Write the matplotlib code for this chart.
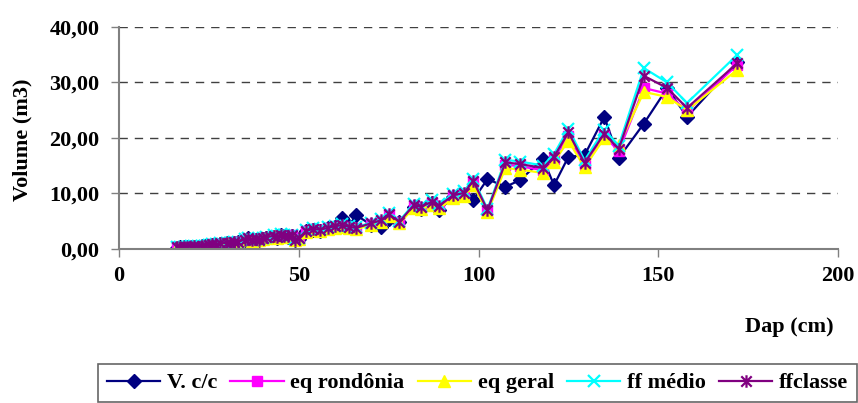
import matplotlib
matplotlib.use('Agg')
import matplotlib.pyplot as plt
from matplotlib.path import Path

# diametro (cm) e volumes (m3)
dap = [16, 17, 18, 19, 20, 21, 22, 23, 24, 25, 26, 27, 28,
       30, 31, 32, 33,
       35, 36, 37, 38, 39, 40, 41,
       43, 44, 45, 46, 47, 48, 49, 50,
       52, 54, 56, 58, 60, 62, 64, 66,
       70, 73, 75, 78,
       82, 84, 87, 89, 93, 96,
       98.5, 102.5, 107.5, 111.5,
       118, 121, 125, 129.5,
       135, 139, 146, 152.5, 158, 172]

v_cc = [0.25, 0.30, 0.35, 0.30, 0.40, 0.45, 0.40, 0.50, 0.55, 0.60, 0.80, 0.70, 0.90,
        1.00, 0.90, 1.10, 1.20,
        1.50, 1.90, 1.40, 1.70, 1.60, 1.80, 2.00,
        2.20, 2.00, 2.50, 2.30, 2.10, 2.40, 1.60, 1.80,
        3.20, 3.50, 3.30, 3.70, 4.00, 5.50, 4.20, 6.10,
        4.40, 3.90, 5.40, 4.80,
        7.60, 7.20, 8.20, 7.00, 9.40, 9.80,
        8.80, 12.60, 11.20, 12.40,
        16.20, 11.50, 16.60, 16.90,
        23.80, 16.40, 22.60, 29.00, 23.80, 33.70]

eq_rondonia = [0.30, 0.30, 0.40, 0.35, 0.45, 0.50, 0.45, 0.55, 0.60, 0.70, 0.84, 0.79, 0.99,
               1.09, 0.99, 1.19, 1.28,
               1.68, 1.87, 1.58, 1.77, 1.68, 1.97, 2.07,
               2.36, 2.17, 2.56, 2.36, 2.27, 2.46, 1.68, 1.87,
               3.25, 3.54, 3.45, 3.74, 4.03, 4.23, 3.94, 3.74,
               4.52, 5.11, 6.19, 4.82,
               7.75, 7.46, 8.33, 7.65, 9.50, 9.89,
               12.00, 6.85, 15.20, 14.90,
               14.20, 16.20, 20.40, 15.10,
               20.40, 17.60, 29.00, 28.00, 24.80, 33.20]

eq_geral = [0.28, 0.28, 0.38, 0.33, 0.42, 0.47, 0.42, 0.52, 0.57, 0.66, 0.80, 0.75, 0.94,
            1.04, 0.94, 1.13, 1.22,
            1.60, 1.79, 1.50, 1.69, 1.60, 1.88, 1.97,
            2.26, 2.07, 2.44, 2.26, 2.16, 2.35, 1.60, 1.79,
            3.10, 3.38, 3.29, 3.57, 3.85, 4.04, 3.76, 3.57,
            4.32, 4.89, 5.92, 4.61,
            7.43, 7.14, 7.99, 7.33, 9.12, 9.49,
            11.60, 6.60, 14.60, 14.30,
            13.70, 15.70, 19.50, 14.70,
            20.00, 18.70, 28.30, 27.40, 25.00, 32.30]

ff_medio = [0.31, 0.31, 0.41, 0.36, 0.46, 0.52, 0.46, 0.57, 0.62, 0.72, 0.88, 0.82, 1.03,
            1.13, 1.03, 1.24, 1.34,
            1.75, 1.96, 1.65, 1.85, 1.75, 2.06, 2.16,
            2.47, 2.27, 2.68, 2.47, 2.37, 2.58, 1.75, 1.96,
            3.40, 3.71, 3.61, 3.91, 4.22, 4.43, 4.12, 3.91,
            4.74, 5.36, 6.49, 5.05,
            8.14, 7.83, 8.76, 8.03, 9.99, 10.40,
            12.67, 7.21, 16.07, 15.76,
            15.04, 17.10, 21.70, 15.97,
            21.50, 18.60, 32.60, 30.00, 26.30, 35.00]

ffclasse = [0.30, 0.30, 0.40, 0.35, 0.45, 0.50, 0.45, 0.55, 0.60, 0.70, 0.85, 0.80, 1.00,
            1.10, 1.00, 1.20, 1.30,
            1.70, 1.90, 1.60, 1.80, 1.70, 2.00, 2.10,
            2.40, 2.20, 2.60, 2.40, 2.30, 2.50, 1.70, 1.90,
            3.30, 3.60, 3.50, 3.80, 4.10, 4.30, 4.00, 3.80,
            4.60, 5.20, 6.30, 4.90,
            7.90, 7.60, 8.50, 7.80, 9.70, 10.10,
            12.30, 7.00, 15.60, 15.30,
            14.60, 16.60, 21.00, 15.50,
            20.80, 18.00, 31.20, 29.00, 25.40, 33.50]

y_ticks = [0, 10, 20, 30, 40]
x_ticks = [0, 50, 100, 150, 200]

plt.rcParams['font.family'] = ['Liberation Serif', 'DejaVu Serif']
plt.rcParams['font.weight'] = 'bold'

# marcador estrela do excel: x com traco vertical
star = Path([(-1, -1), (1, 1), (-1, 1), (1, -1), (0, -1.2), (0, 1.2)],
            [Path.MOVETO, Path.LINETO, Path.MOVETO, Path.LINETO, Path.MOVETO, Path.LINETO])

fig = plt.figure(figsize=(8.58, 4.03), dpi=100)
ax = fig.add_axes([119 / 858, 1 - 249 / 403, 719 / 858, 222 / 403])

ax.plot(dap, v_cc, color='#000080', lw=1.6, marker='D', ms=7.5,
        mfc='#000080', mec='#000080', label='V. c/c')
ax.plot(dap, eq_rondonia, color='#FF00FF', lw=1.6, marker='s', ms=7.5,
        mfc='#FF00FF', mec='#FF00FF', label='eq rondônia')
ax.plot(dap, eq_geral, color='#FFFF00', lw=1.6, marker='^', ms=9,
        mfc='#FFFF00', mec='#FFFF00', label='eq geral')
ax.plot(dap, ff_medio, color='#00FFFF', lw=1.6, marker='x', ms=9, mew=1.6,
        label='ff médio')
ax.plot(dap, ffclasse, color='#800080', lw=1.6, marker=star, ms=9, mew=1.6,
        mfc='none', mec='#800080', label='ffclasse')

ax.set_xlim(0, 200)
ax.set_ylim(0, 40)
ax.set_xticks(x_ticks)
ax.set_yticks(y_ticks)
ax.set_yticklabels([f'{v:.2f}'.replace('.', ',') for v in y_ticks])
ax.tick_params(axis='both', labelsize=16, length=6, width=1, color='#808080', direction='out')
ax.tick_params(axis='x', pad=6)
ax.tick_params(axis='y', pad=8)

for s in ['top', 'right']:
    ax.spines[s].set_visible(False)
for s in ['left', 'bottom']:
    ax.spines[s].set_color('#808080')
    ax.spines[s].set_linewidth(1.5)

ax.yaxis.grid(True, color='#404040', linestyle=(0, (6, 5)), lw=1)
ax.set_axisbelow(True)

fig.text(22 / 858, 1 - 140 / 403, 'Volume (m3)', rotation=90, fontsize=16,
         fontweight='bold', ha='center', va='center')
fig.text(789 / 858, 1 - 327 / 403, 'Dap (cm)', fontsize=16,
         fontweight='bold', ha='center', va='center')

leg = fig.legend(loc='lower left', ncol=5, bbox_to_anchor=(98 / 858, 0.002, 759 / 858, 0.097),
                 mode='expand', fontsize=16, frameon=True, fancybox=False,
                 handlelength=2.4, handletextpad=0.3, columnspacing=0.5,
                 borderpad=0.4, borderaxespad=0)
leg.get_frame().set_edgecolor('#404040')
leg.get_frame().set_linewidth(1.2)

fig.savefig('out.png', dpi=100, facecolor='white')
